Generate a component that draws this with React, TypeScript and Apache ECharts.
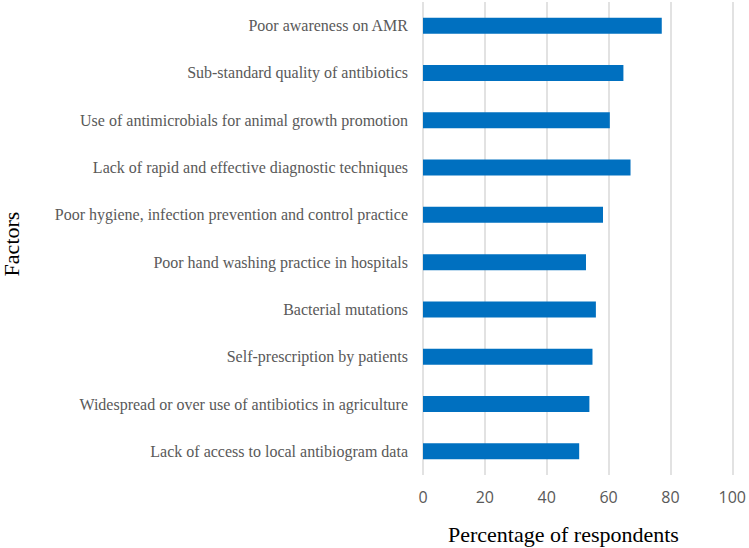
import React, { useEffect, useRef } from "react";
import * as echarts from "echarts";

const categories = [
  "Poor awareness on AMR",
  "Sub-standard quality of antibiotics",
  "Use of antimicrobials for animal growth promotion",
  "Lack of rapid and effective diagnostic techniques",
  "Poor hygiene, infection prevention and control practice",
  "Poor hand washing practice in hospitals",
  "Bacterial mutations",
  "Self-prescription by patients",
  "Widespread or over use of antibiotics in agriculture",
  "Lack of access to local antibiogram data",
];
const values = [77.2, 64.8, 60.4, 67.1, 58.2, 52.7, 55.9, 54.8, 53.8, 50.5];
const xTicks = { min: 0, max: 100, interval: 20 };
const xTitle = "Percentage of respondents";
const yTitle = "Factors";

export default function App() {
  const ref = useRef<HTMLDivElement>(null);
  useEffect(() => {
    if (!ref.current) return;
    const chart = echarts.init(ref.current, null, { renderer: "svg" });
    chart.setOption({
      animation: false,
      backgroundColor: "#ffffff",
      grid: { left: 423, right: 16, top: 2, bottom: 73, containLabel: false },
      xAxis: {
        type: "value",
        min: xTicks.min,
        max: xTicks.max,
        interval: xTicks.interval,
        axisLine: { show: false },
        axisTick: { show: false },
        splitLine: { show: true, lineStyle: { color: "#d9d9d9", width: 1.5 } },
        axisLabel: {
          color: "#595959",
          fontFamily: "Open Sans",
          fontSize: 16,
          margin: 14,
        },
      },
      yAxis: {
        type: "category",
        data: categories,
        inverse: true,
        axisLine: { show: false },
        axisTick: { show: false },
        axisLabel: {
          color: "#595959",
          fontFamily: "Liberation Serif",
          fontSize: 16,
          margin: 15,
        },
      },
      series: [
        {
          type: "bar",
          data: values,
          barWidth: 16,
          itemStyle: { color: "#0070C0" },
        },
      ],
      graphic: [
        {
          type: "text",
          x: 448,
          y: 534,
          style: {
            text: xTitle,
            fontFamily: "Liberation Serif",
            fontSize: 22,
            fill: "#000000",
            verticalAlign: "middle",
          },
        },
        {
          type: "text",
          x: 0,
          y: 244,
          rotation: Math.PI / 2,
          style: {
            text: yTitle,
            fontFamily: "Liberation Serif",
            fontSize: 22,
            fill: "#000000",
            align: "center",
            verticalAlign: "top",
          },
        },
      ],
    });
    return () => chart.dispose();
  }, []);
  return <div ref={ref} style={{ width: 749, height: 548, position: "absolute", left: 0, top: 0 }} />;
}
